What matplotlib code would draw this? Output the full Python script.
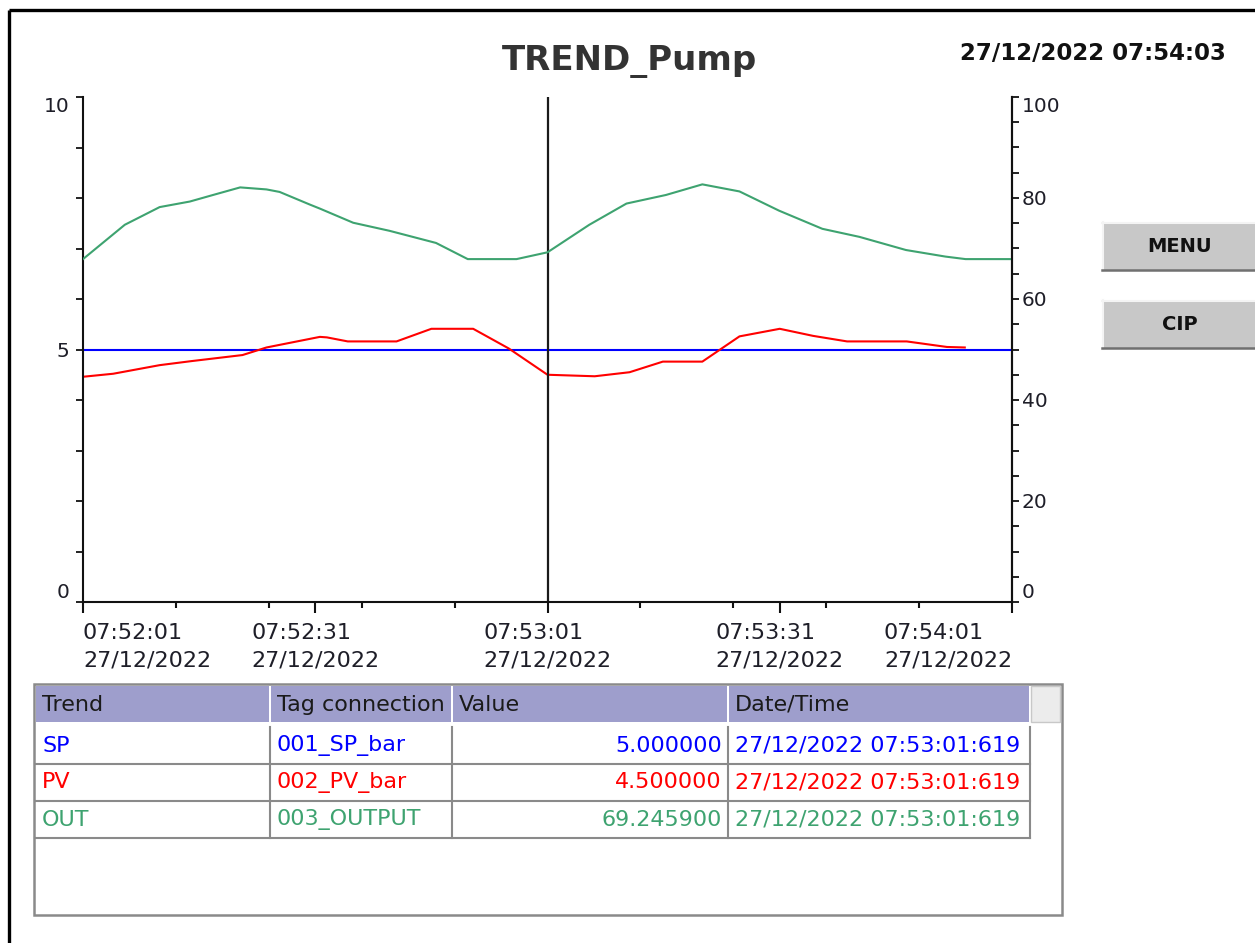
import matplotlib
matplotlib.use('Agg')
import matplotlib.pyplot as plt
from matplotlib.patches import Rectangle
from matplotlib.ticker import FixedLocator, FuncFormatter
from datetime import datetime, timedelta

plt.rcParams['font.family'] = ['DejaVu Sans']

# --- data (seconds after 07:52:01) ---
START = datetime(2022, 12, 27, 7, 52, 1)
sp_times = [0, 120]
sp_values = [5.0, 5.0]

pv_times = [0, 3.9, 9.9, 14.0, 20.6, 23.7, 30.6, 31.5, 34.2, 40.5, 45.0, 50.4,
            55.0, 60.0, 66.1, 70.6, 74.9, 80.0, 84.8, 90.0, 94.3, 98.7, 106.4,
            111.6, 113.9]
pv_values = [4.46, 4.52, 4.69, 4.77, 4.89, 5.04, 5.25, 5.24, 5.16, 5.16, 5.41, 5.41,
             5.02, 4.50, 4.47, 4.55, 4.76, 4.76, 5.26, 5.41, 5.27, 5.16, 5.16,
             5.05, 5.04]

out_times = [0, 5.4, 9.9, 13.8, 16.8, 20.3, 23.7, 25.4, 29.3, 30.6, 34.9, 39.6,
             45.6, 49.7, 56.0, 60.0, 65.4, 70.2, 75.3, 80.0, 84.8, 89.9, 95.5,
             100.3, 106.3, 111.4, 114.0, 120]
out_values = [67.9, 74.7, 78.2, 79.3, 80.6, 82.1, 81.7, 81.2, 78.7, 77.9, 75.1, 73.5,
              71.1, 67.9, 67.9, 69.2459, 74.7, 78.9, 80.6, 82.7, 81.3, 77.5, 73.9,
              72.3, 69.7, 68.4, 67.9, 67.9]

cursor_time = 60
x_major = [0, 30, 60, 90, 120]

# table content
trend_names = ["SP", "PV", "OUT"]
tag_names = ["001_SP_bar", "002_PV_bar", "003_OUTPUT"]
cursor_values = ["5.000000", "4.500000", "69.245900"]
cursor_stamps = ["27/12/2022 07:53:01:619"] * 3
header_labels = ["Trend", "Tag connection", "Value", "Date/Time"]

SP_C = "#0000ff"
PV_C = "#ff0000"
OUT_C = "#3ea370"
TXT = "#1e1e28"
FS = 16  # table / time label size


def time_label(s, pos):
    return (START + timedelta(seconds=float(s))).strftime("%H:%M:%S\n%d/%m/%Y")


W, H = 1255, 943
fig = plt.figure(figsize=(W / 100, H / 100), dpi=100)
fig.patch.set_facecolor("white")

# overlay in pixel coords for frame, buttons and table
ov = fig.add_axes([0, 0, 1, 1], zorder=0)
ov.set_xlim(0, W)
ov.set_ylim(H, 0)
ov.axis('off')

# main trend axes
L, R, T, B = 83, 1012, 97, 602
ax = fig.add_axes([L / W, 1 - B / H, (R - L) / W, (B - T) / H], zorder=2)
ax.patch.set_visible(False)
ax2 = ax.twinx()

ax.plot(sp_times, sp_values, color=SP_C, lw=1.5)
ax.plot(pv_times, pv_values, color=PV_C, lw=1.5)
ax2.plot(out_times, out_values, color=OUT_C, lw=1.5)
ax.axvline(cursor_time, color="#1a1a1a", lw=1.6)

ax.set_xlim(0, 120)
ax.set_ylim(0, 10)
ax2.set_ylim(0, 100)

for a in (ax, ax2):
    a.spines["top"].set_visible(False)
    for s in a.spines.values():
        s.set_color("#111111")
        s.set_linewidth(1.5)
ax2.spines["left"].set_visible(False)
ax2.spines["bottom"].set_visible(False)

# x ticks
ax.xaxis.set_major_locator(FixedLocator(x_major))
ax.xaxis.set_minor_locator(FixedLocator(list(range(0, 121, 12))))
ax.xaxis.set_major_formatter(FuncFormatter(time_label))
ax.tick_params(axis='x', which='major', length=8, width=1.5, pad=7,
               labelsize=FS, labelcolor=TXT, color="#111111")
ax.tick_params(axis='x', which='minor', length=4, width=1.5, color="#111111")

# y ticks
ax.yaxis.set_major_locator(FixedLocator([0, 5, 10]))
ax.yaxis.set_minor_locator(FixedLocator(list(range(0, 11))))
ax.tick_params(axis='y', which='major', length=5, width=1.3, pad=5,
               labelsize=14.5, labelcolor=TXT, color="#111111")
ax.tick_params(axis='y', which='minor', length=5, width=1.3, color="#111111")
ax2.yaxis.set_major_locator(FixedLocator([0, 20, 40, 60, 80, 100]))
ax2.yaxis.set_minor_locator(FixedLocator(list(range(0, 101, 5))))
ax2.tick_params(axis='y', which='major', length=5, width=1.3, pad=2,
                labelsize=14.5, labelcolor=TXT, color="#111111")
ax2.tick_params(axis='y', which='minor', length=5, width=1.3, color="#111111")

xl = ax.get_xticklabels()
for lab in xl:
    lab.set_linespacing(1.45)
    lab.set_multialignment('left')
xl[0].set_ha('left')
xl[-1].set_ha('right')
for a in (ax, ax2):
    yl = a.get_yticklabels()
    yl[0].set_va('bottom')
    yl[-1].set_va('top')

# title + clock
fig.text(629 / W, 1 - 61 / H, "TREND_Pump", ha='center', va='center',
         fontsize=24.5, weight='bold', color="#333333")
fig.text(1226 / W, 1 - 54 / H, "27/12/2022 07:54:03", ha='right', va='center',
         fontsize=16.5, weight='bold', color="#111111")

# outer frame
ov.plot([9, W], [10, 10], color="black", lw=2.4, solid_capstyle='butt')
ov.plot([9, 9], [10, H], color="black", lw=2.4, solid_capstyle='butt')

# buttons
for label, y0 in [("MENU", 222), ("CIP", 300)]:
    ov.add_patch(Rectangle((1102, y0), W - 1102, 49, facecolor="#c8c8c8", edgecolor="none"))
    ov.plot([1102, W], [y0 + 1, y0 + 1], color="#f4f4f4", lw=1.5)
    ov.plot([1103, 1103], [y0, y0 + 49], color="#f4f4f4", lw=1.5)
    ov.plot([1102, W], [y0 + 48, y0 + 48], color="#707070", lw=1.8)
    ov.text(1180, y0 + 25, label, ha='center', va='center', fontsize=14,
            weight='bold', color="#111111")

# table
GRID = "#8a8a8a"
ov.add_patch(Rectangle((34, 684), 1062 - 34, 915 - 684, facecolor="white",
                       edgecolor=GRID, lw=1.8))
col_edges = [35, 270, 452, 728, 1030]
for i, lab in enumerate(header_labels):
    x0, x1 = col_edges[i], col_edges[i + 1]
    ov.add_patch(Rectangle((x0 + 1, 686), x1 - x0 - 2, 36, facecolor="#9e9ecc",
                           edgecolor="none"))
    ov.text(x0 + 7, 705, lab, ha='left', va='center', fontsize=FS, color="#1a1a1a")
ov.add_patch(Rectangle((1031, 686), 29, 36, facecolor="#ececec", edgecolor="#c8c8c8", lw=1))

row_y = [727, 764, 801, 838]
row_colors = [SP_C, PV_C, OUT_C]
for y in row_y[1:]:
    ov.plot([35, 1030], [y, y], color=GRID, lw=1.5)
for x in col_edges[1:]:
    ov.plot([x, x], [row_y[0], row_y[-1]], color=GRID, lw=1.5)
for i in range(3):
    yc = (row_y[i] + row_y[i + 1]) / 2
    c = row_colors[i]
    ov.text(42, yc, trend_names[i], ha='left', va='center', fontsize=FS, color=c)
    ov.text(277, yc, tag_names[i], ha='left', va='center', fontsize=FS, color=c)
    ov.text(722, yc, cursor_values[i], ha='right', va='center', fontsize=FS, color=c)
    ov.text(735, yc, cursor_stamps[i], ha='left', va='center', fontsize=FS, color=c)

fig.savefig("out.png", dpi=100)
